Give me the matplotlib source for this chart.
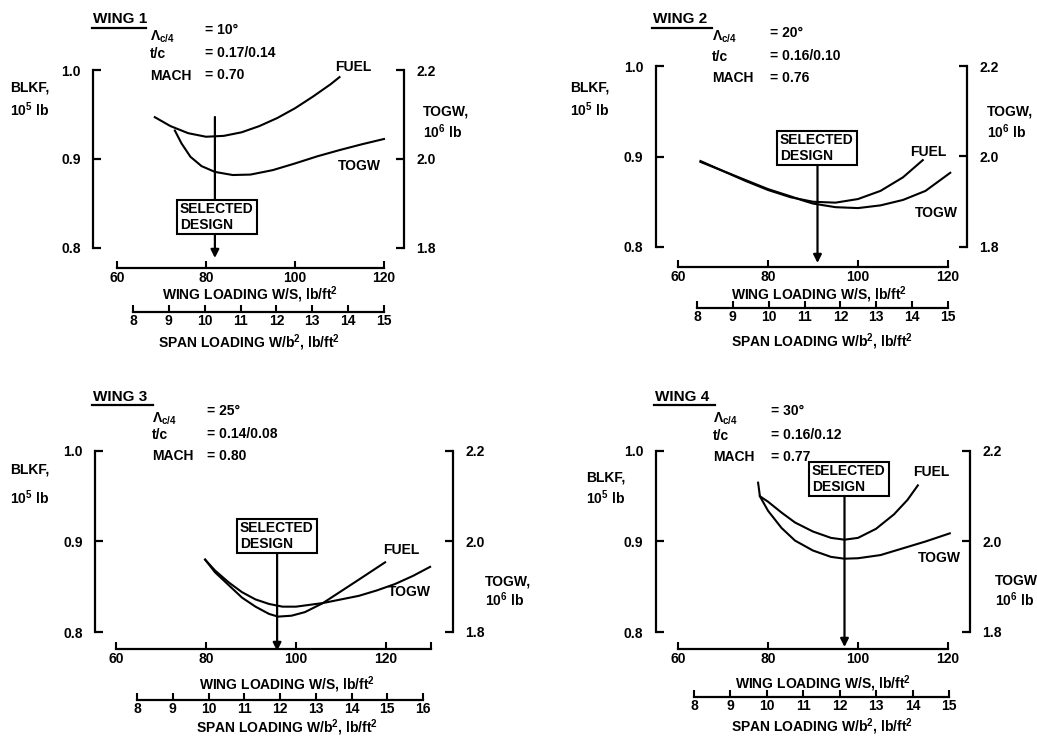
import matplotlib
matplotlib.use('Agg')
import matplotlib.pyplot as plt
from matplotlib.lines import Line2D

plt.rcParams['font.family'] = ['Liberation Sans', 'DejaVu Sans']
plt.rcParams['font.weight'] = 'bold'
plt.rcParams['mathtext.fontset'] = 'custom'
plt.rcParams['mathtext.rm'] = 'Liberation Sans:bold'
plt.rcParams['mathtext.it'] = 'Liberation Sans:bold'
plt.rcParams['mathtext.bf'] = 'Liberation Sans:bold'

# ---------------- data ----------------
wing_names = ['WING 1', 'WING 2', 'WING 3', 'WING 4']
sweep_deg = ['10', '20', '25', '30']
thickness = ['0.17/0.14', '0.16/0.10', '0.14/0.08', '0.16/0.12']
mach_no = ['0.70', '0.76', '0.80', '0.77']

blkf_ticks = [0.8, 0.9, 1.0]
blkf_labels = ['0.8', '0.9', '1.0']
togw_ticks = [1.8, 2.0, 2.2]
togw_labels = ['1.8', '2.0', '2.2']

wl_range = [(60, 120), (60, 120), (60, 130), (60, 120)]
wl_ticks = [[60, 80, 100, 120], [60, 80, 100, 120], [60, 80, 100, 120, 130], [60, 80, 100, 120]]
wl_labels = [['60', '80', '100', '120'], ['60', '80', '100', '120'],
             ['60', '80', '100', '120', ''], ['60', '80', '100', '120']]
span_range = [(8, 15), (8, 15), (8, 16), (8, 15)]

selected_wl = [82.0, 91.0, 95.8, 97.0]

# Wing 1
fuel1_wl = [68.5, 72, 76, 80, 84, 88, 92, 96, 100, 104, 108, 110]
fuel1_blkf = [0.947, 0.937, 0.929, 0.925, 0.926, 0.930, 0.937, 0.946, 0.957, 0.970, 0.984, 0.992]
togw1_wl = [73, 74.5, 76.5, 79, 82, 86, 90, 95, 100, 105, 110, 115, 120]
togw1_togw = [2.064, 2.035, 2.005, 1.984, 1.971, 1.964, 1.965, 1.975, 1.990, 2.006, 2.020, 2.033, 2.045]
# Wing 2
fuel2_wl = [65, 70, 75, 80, 85, 90, 95, 100, 105, 110, 114.4]
fuel2_blkf = [0.894, 0.884, 0.873, 0.863, 0.855, 0.850, 0.849, 0.853, 0.862, 0.877, 0.896]
togw2_wl = [65, 70, 75, 80, 85, 88, 90, 95, 100, 105, 110, 115, 120.5]
togw2_togw = [1.990, 1.968, 1.948, 1.928, 1.912, 1.902, 1.896, 1.888, 1.886, 1.892, 1.904, 1.924, 1.964]
# Wing 3
fuel3_wl = [79.8, 82, 85, 88, 91, 94, 96, 99, 102, 106, 110, 114, 119.8]
fuel3_blkf = [0.880, 0.866, 0.852, 0.838, 0.828, 0.820, 0.817, 0.818, 0.822, 0.832, 0.845, 0.858, 0.877]
togw3_wl = [79.8, 82, 85, 88, 91, 94, 97, 100, 103, 106, 110, 114, 118, 122, 126, 129.8]
togw3_togw = [1.960, 1.936, 1.910, 1.888, 1.872, 1.862, 1.856, 1.856, 1.860, 1.864, 1.872,
              1.880, 1.892, 1.906, 1.924, 1.944]
# Wing 4
fuel4_wl = [77.8, 78.2, 80, 83, 86, 90, 94, 97, 100, 104, 108, 111, 113.3]
fuel4_blkf = [0.965, 0.950, 0.944, 0.932, 0.921, 0.911, 0.904, 0.902, 0.904, 0.914, 0.930, 0.946, 0.962]
togw4_wl = [78.2, 80, 83, 86, 90, 94, 97, 100, 105, 110, 115, 120.4]
togw4_togw = [2.100, 2.068, 2.030, 2.002, 1.980, 1.966, 1.962, 1.963, 1.970, 1.985, 2.000, 2.018]

fuel_wl = [fuel1_wl, fuel2_wl, fuel3_wl, fuel4_wl]
fuel_blkf = [fuel1_blkf, fuel2_blkf, fuel3_blkf, fuel4_blkf]
togw_wl = [togw1_wl, togw2_wl, togw3_wl, togw4_wl]
togw_val = [togw1_togw, togw2_togw, togw3_togw, togw4_togw]

# ---------------- layout (pixel positions) ----------------
W, H = 1037, 739
layout = [
    dict(lbr=93, rbr=404, top=70, bot=248, wl_y=268, wl_px=(117, 384), sp_y=312, sp_px=(133, 384),
         title=(93, 19), uline=(92, 146, 28), px=150, vx=205, py=(37, 54, 76), pvy=(30, 53, 75),
         blkf=(10, 88, 110), togw=(423, 111, 132), fuel_lab=(335, 67), togw_lab=(338, 166),
         box=(180, 217), arrow=(117, 258), wl_title=(250, 295), sp_title=(249, 343)),
    dict(lbr=656, rbr=967, top=66, bot=247, wl_y=267, wl_px=(678, 948), sp_y=308, sp_px=(697, 948),
         title=(653, 19), uline=(652, 712, 28), px=712, vx=770, py=(37, 57, 78), pvy=(33, 56, 78),
         blkf=(570, 88, 110), togw=(987, 111, 132), fuel_lab=(910, 152), togw_lab=(915, 213),
         box=(780, 148), arrow=(165, 263), wl_title=(819, 295), sp_title=(822, 342)),
    dict(lbr=95, rbr=453, top=451, bot=632, wl_y=649, wl_px=(116, 431), sp_y=700, sp_px=(137, 423),
         title=(93, 397), uline=(92, 153, 405), px=152, vx=207, py=(419, 435, 456), pvy=(411, 434, 456),
         blkf=(10, 470, 498), togw=(485, 581, 600), fuel_lab=(383, 550), togw_lab=(388, 592),
         box=(240, 536), arrow=(554, 651), wl_title=(287, 685), sp_title=(287, 728)),
    dict(lbr=656, rbr=970, top=451, bot=632, wl_y=649, wl_px=(678, 948), sp_y=697, sp_px=(694, 949),
         title=(655, 397), uline=(654, 715, 405), px=713, vx=771, py=(419, 436, 457), pvy=(411, 435, 457),
         blkf=(586, 477, 498), togw=(995, 581, 600), fuel_lab=(913, 472), togw_lab=(918, 558),
         box=(812, 479), arrow=(497, 647), wl_title=(823, 684), sp_title=(822, 727)),
]

FS = 10
fig = plt.figure(figsize=(W / 100, H / 100), dpi=100)


def add_ax(x0, y0, x1, y1):
    return fig.add_axes([x0 / W, 1 - y1 / H, (x1 - x0) / W, (y1 - y0) / H])


def ftext(x, y, s, **kw):
    kw.setdefault('fontsize', FS)
    kw.setdefault('va', 'center')
    kw.setdefault('ha', 'left')
    return fig.text(x / W, 1 - y / H, s, **kw)


for i in range(4):
    lay = layout[i]
    lbr, rbr, top, bot = lay['lbr'], lay['rbr'], lay['top'], lay['bot']
    ax = add_ax(lbr, top, rbr, bot)
    lo, hi = wl_range[i]
    p0, p1 = lay['wl_px']
    s = (p1 - p0) / (hi - lo)
    ax.set_xlim(lo - (p0 - lbr) / s, lo + (rbr - p0) / s)
    ax.set_ylim(0.8, 1.0)
    ax.patch.set_visible(False)
    for sp in ['top', 'right']:
        ax.spines[sp].set_visible(False)
    ax.spines['left'].set_linewidth(1.6)
    ax.spines['bottom'].set_linewidth(1.6)
    ax.spines['bottom'].set_position(('outward', (lay['wl_y'] - bot) * 0.72))
    ax.spines['bottom'].set_bounds(lo, hi)
    ax.set_xticks(wl_ticks[i])
    ax.set_xticklabels(wl_labels[i])
    ax.set_yticks(blkf_ticks)
    ax.set_yticklabels(blkf_labels)
    ax.tick_params(axis='x', direction='in', length=5, width=1.5, pad=2, labelsize=FS)
    ax.tick_params(axis='y', direction='in', length=6, width=1.6, pad=9, labelsize=FS)
    ax.plot(fuel_wl[i], fuel_blkf[i], color='black', lw=1.5, clip_on=False)

    ax2 = ax.twinx()
    ax2.set_ylim(1.8, 2.2)
    for sp in ['top', 'left', 'bottom']:
        ax2.spines[sp].set_visible(False)
    ax2.spines['right'].set_linewidth(1.6)
    ax2.set_yticks(togw_ticks)
    ax2.set_yticklabels(togw_labels)
    ax2.tick_params(axis='y', direction='in', length=6, width=1.6, pad=9, labelsize=FS)
    ax2.plot(togw_wl[i], togw_val[i], color='black', lw=1.5, clip_on=False)

    # selected design arrow
    a0, a1 = lay['arrow']
    ax.annotate('', xy=(selected_wl[i], H - a1), xytext=(selected_wl[i], H - a0),
                xycoords=('data', 'figure pixels'), textcoords=('data', 'figure pixels'),
                arrowprops=dict(arrowstyle='-|>', lw=1.6, color='black', mutation_scale=12,
                                shrinkA=0, shrinkB=0), annotation_clip=False)
    bx, by = lay['box']
    ftext(bx, by, 'SELECTED\nDESIGN', linespacing=1.1, zorder=5,
          bbox=dict(boxstyle='square,pad=0.2', fc='white', ec='black', lw=1.5))

    # span loading axis
    sax = add_ax(lay['sp_px'][0], lay['sp_y'] - 20, lay['sp_px'][1], lay['sp_y'])
    slo, shi = span_range[i]
    sax.set_xlim(slo, shi)
    sax.patch.set_visible(False)
    for sp in ['top', 'left', 'right']:
        sax.spines[sp].set_visible(False)
    sax.spines['bottom'].set_linewidth(1.6)
    sax.set_yticks([])
    sax.set_xticks(list(range(slo, shi + 1)))
    sax.tick_params(axis='x', direction='in', length=5, width=1.5, pad=1.5, labelsize=FS)

    # texts
    tx, ty = lay['title']
    ftext(tx, ty, wing_names[i], fontsize=11)
    ux0, ux1, uy = lay['uline']
    fig.add_artist(Line2D([ux0 / W, ux1 / W], [1 - uy / H] * 2, color='black', lw=1.6))
    px_, vx = lay['px'], lay['vx']
    ftext(px_, lay['py'][0], r'$\Lambda_{c/4}$')
    ftext(px_, lay['py'][1], 't/c')
    ftext(px_, lay['py'][2], 'MACH')
    ftext(vx, lay['pvy'][0], '= ' + sweep_deg[i] + '°')
    ftext(vx, lay['pvy'][1], '= ' + thickness[i])
    ftext(vx, lay['pvy'][2], '= ' + mach_no[i])
    bxl, by1, by2 = lay['blkf']
    ftext(bxl, by1, 'BLKF,')
    ftext(bxl, by2, '10$^5$ lb')
    gx, gy1, gy2 = lay['togw']
    ftext(gx, gy1, 'TOGW,' if i < 3 else 'TOGW')
    ftext(gx, gy2, '10$^6$ lb')
    ftext(*lay['fuel_lab'], 'FUEL')
    ftext(*lay['togw_lab'], 'TOGW')
    ftext(*lay['wl_title'], 'WING LOADING W/S, lb/ft$^2$', ha='center')
    ftext(*lay['sp_title'], 'SPAN LOADING W/b$^2$, lb/ft$^2$', ha='center')

fig.savefig('out.png', dpi=100)
